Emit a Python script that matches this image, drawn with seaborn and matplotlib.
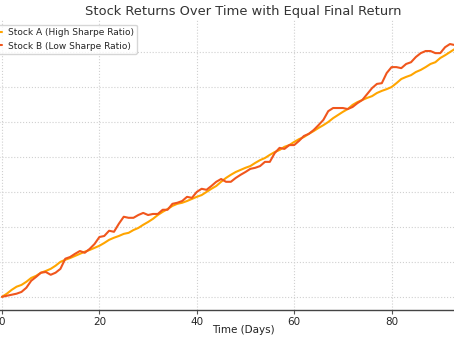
import matplotlib
matplotlib.use("Agg")
import matplotlib.pyplot as plt
import seaborn as sns
import pandas as pd
import numpy as np

days = list(range(100))

stock_a = [0.0, 0.9, 2.0, 2.9, 3.4, 4.3, 5.4, 6.0, 6.9, 7.4,
           8.0, 8.9, 10.0, 10.6, 11.1, 11.7, 12.3, 12.9, 13.4, 14.0,
           14.6, 15.4, 16.3, 16.9, 17.4, 18.0, 18.3, 19.1, 19.7, 20.6,
           21.4, 22.3, 23.4, 24.3, 25.1, 26.0, 26.6, 26.9, 27.4, 28.0,
           28.6, 29.1, 30.0, 30.9, 31.7, 32.9, 34.0, 34.9, 35.7, 36.3,
           36.9, 37.4, 38.3, 39.1, 39.7, 40.6, 41.4, 42.0, 42.9, 43.4,
           44.3, 45.1, 45.7, 46.6, 47.4, 48.3, 49.1, 50.0, 51.1, 52.0,
           52.9, 53.7, 54.9, 55.7, 56.3, 56.9, 57.4, 58.3, 58.9, 59.4,
           60.0, 61.1, 62.3, 62.9, 63.4, 64.3, 64.9, 65.7, 66.6, 67.1,
           68.3, 69.1, 70.0, 70.9, 71.4, 72.3, 73.1, 73.7, 74.6, 75.4]

stock_b = [0.0, 0.3, 0.6, 0.9, 1.4, 2.6, 4.6, 5.7, 6.9, 7.1,
           6.3, 6.9, 8.0, 10.9, 11.4, 12.3, 13.1, 12.6, 13.7, 15.1,
           17.1, 17.4, 18.9, 18.6, 20.9, 22.9, 22.6, 22.6, 23.4, 24.0,
           23.4, 23.7, 23.7, 24.9, 24.9, 26.6, 26.9, 27.4, 28.6, 28.3,
           30.0, 30.9, 30.6, 31.7, 32.9, 33.7, 32.9, 32.9, 34.0, 34.9,
           35.7, 36.6, 36.9, 37.4, 38.6, 38.6, 41.1, 42.6, 42.3, 43.4,
           43.4, 44.6, 46.0, 46.6, 47.7, 49.1, 50.6, 53.1, 54.0, 54.0,
           54.0, 53.7, 54.3, 55.4, 56.3, 58.0, 59.7, 60.9, 61.1, 64.0,
           65.7, 65.7, 65.4, 66.6, 67.1, 68.6, 69.7, 70.3, 70.3, 69.7,
           69.7, 71.4, 72.3, 72.0, 72.6, 73.1, 73.4, 74.0, 74.9, 75.4]

label_a = "Stock A (High Sharpe Ratio)"
label_b = "Stock B (Low Sharpe Ratio)"

df = pd.DataFrame({
    "Day": days * 2,
    "Return": stock_a + stock_b,
    "Stock": [label_a] * len(days) + [label_b] * len(days),
})

sns.set_style("whitegrid", {"grid.linestyle": ":", "grid.color": "#d0d0d0"})
plt.rcParams['font.family'] = ['DejaVu Sans']

fig = plt.figure(figsize=(4.54, 3.41), dpi=100)
ax = fig.add_axes([-0.0487, 0.0909, 1.168, 0.8504])

sns.lineplot(data=df, x="Day", y="Return", hue="Stock",
             palette={label_a: "#FFA500", label_b: "#F0561D"},
             linewidth=1.5, ax=ax)

ax.set_title("Stock Returns Over Time with Equal Final Return",
             fontsize=9.4, color="#333333", pad=3.5)
ax.set_xlabel("Time (Days)", fontsize=7.5, color="#222222", labelpad=-1.5)
ax.set_ylabel("Cumulative Return (%)", fontsize=7.5)
ax.set_xticks([0, 20, 40, 60, 80])
ax.set_yticks([0, 10, 20, 30, 40, 50, 60, 70])
ax.tick_params(axis="x", labelsize=7.5, bottom=True, length=3, color="#555555", pad=2)
ax.tick_params(axis="y", labelsize=7.5)
for s in ["top", "right", "left"]:
    ax.spines[s].set_visible(False)
ax.spines["bottom"].set_color("#444444")
ax.spines["bottom"].set_linewidth(1.0)

leg = ax.legend(loc="upper left", fontsize=6.5, frameon=True,
                handlelength=1.8, handletextpad=0.6)
leg.get_frame().set_edgecolor("#cccccc")

fig.savefig("out.png", dpi=100)
